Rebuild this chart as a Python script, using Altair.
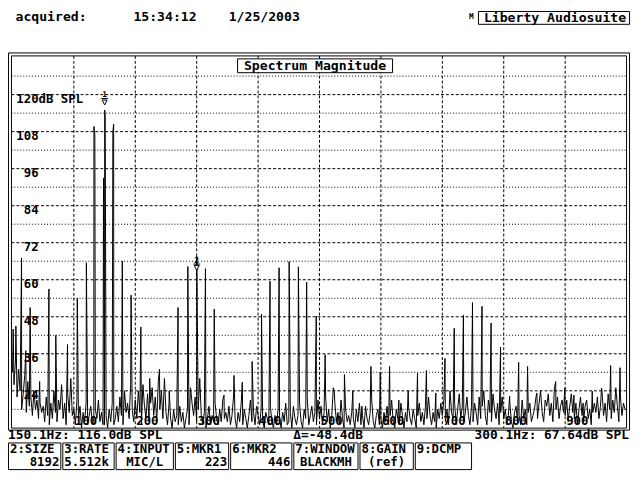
import altair as alt
import pandas as pd

FONT = "DejaVu Sans Mono"

# ---------------- data ----------------
peak_hz = [1.2, 5.6, 14.8, 21.7, 28.8, 44.3, 59.4, 70.6, 89.7, 105.6, 120.4,
           132.7, 134.2, 148.3, 150.2, 151.0, 163.5, 164.8, 178.9, 193.2, 209.1,
           223.5, 239.4, 255.3, 269.7, 285.6, 300.1, 314.3, 328.6, 344.5, 360.8,
           374.3, 390.3, 405.6, 419.4, 434.2, 450.6, 465.6, 479.1, 494.7, 509.2,
           524.0, 540.6, 554.3, 569.1, 583.7, 598.9, 614.1, 629.2, 644.4, 659.6,
           674.1, 689.4, 704.3, 719.4, 734.3, 749.1, 764.6, 779.4, 794.8, 809.6,
           824.3, 838.8, 853.9, 869.4, 884.6, 899.3, 914.3, 929.2, 944.1, 959.2,
           974.1, 989.4]
peak_db = [44, 45, 67, 37, 51, 27, 57, 42, 39, 54, 65.5,
           109.7, 107, 93, 115, 113, 108, 110.4, 66, 55, 44.7,
           28, 31, 24, 51, 64.3, 67.64, 63.6, 50.5, 22.6, 29,
           26.8, 33.5, 48.9, 59.5, 63.9, 65.9, 64.2, 59.2, 48.2, 35.7,
           24, 29.3, 24, 19, 31.9, 30, 31.9, 21, 24, 29.7,
           30.6, 23.3, 34.5, 44.3, 48.5, 52.6, 51.4, 46, 38.2, 22.3,
           33.2, 31.9, 23.3, 19.7, 27, 24.9, 22.6, 20, 23.9, 24.9,
           32.2, 31.5]

NOISE_STEP_HZ = 2.5   # noise floor, one value every 2.5 Hz from 0 Hz
noise_db = [
    30, 26, 34, 22, 31, 24, 18, 23, 29, 17, 27, 19, 22, 16, 24, 18, 21, 15, 20, 17,
    19, 14, 22, 16, 13, 20, 15, 24, 17, 14, 21, 18, 26, 15, 20, 13, 23, 17, 28, 16,
    18, 13, 21, 15, 19, 12, 17, 14, 20, 13, 16, 19, 14, 13, 18, 15, 21, 14, 17, 13,
    13, 16, 12, 18, 14, 20, 13, 15, 19, 14, 22, 16, 13, 24, 17, 20, 15, 26, 18, 14,
    21, 15, 24, 17, 13, 26, 19, 15, 23, 14, 20, 25, 16, 22, 14, 27, 18, 24, 15, 28,
    17, 13, 20, 15, 12, 18, 14, 16, 13, 19, 14, 17, 12, 15, 18, 13, 25, 20, 16, 22,
    14, 18, 28, 16, 13, 17, 12, 15, 19, 13, 16, 14, 20, 15, 13, 18, 14, 21, 15, 17,
    14, 19, 13, 16, 22, 15, 12, 17, 14, 20, 13, 18, 15, 12, 16, 21, 14, 17, 13, 19,
    16, 13, 18, 14, 12, 17, 15, 13, 19, 14, 12, 16, 13, 18, 15, 12, 17, 14, 20, 13,
    14, 17, 12, 19, 15, 13, 16, 20, 14, 12, 18, 15, 22, 13, 16, 19, 14, 17, 13, 21,
    15, 19, 13, 17, 22, 14, 18, 12, 16, 25, 20, 14, 17, 13, 21, 15, 12, 18, 14, 16,
    13, 17, 15, 12, 18, 14, 20, 13, 16, 12, 19, 15, 13, 17, 21, 14, 12, 16, 18, 13,
    15, 12, 17, 14, 19, 13, 16, 21, 14, 12, 18, 15, 13, 20, 16, 12, 17, 14, 19, 15,
    13, 18, 15, 12, 16, 20, 14, 17, 13, 19, 15, 22, 16, 13, 17, 14, 12, 18, 15, 20,
    16, 21, 14, 18, 13, 24, 17, 15, 20, 13, 18, 23, 15, 19, 14, 17, 22, 16, 13, 19,
    14, 20, 17, 13, 22, 15, 19, 24, 16, 13, 21, 17, 14, 23, 18, 15, 20, 13, 17, 22,
    15, 18, 13, 16, 20, 14, 12, 17, 19, 14, 16, 13, 21, 15, 18, 13, 17, 20, 14, 16,
    18, 22, 15, 20, 24, 17, 14, 21, 19, 23, 16, 20, 14, 25, 18, 22, 15, 19, 21, 17,
    16, 21, 14, 19, 23, 17, 15, 20, 13, 18, 22, 16, 14, 19, 21, 15, 18, 13, 17, 20,
    17, 22, 15, 19, 24, 16, 20, 14, 23, 18, 15, 21, 17, 25, 19, 14, 22, 16, 20, 18,
    18,
]

major_db = [24, 36, 48, 60, 72, 84, 96, 108, 120]
minor_db = [18, 30, 42, 54, 66, 78, 90, 102, 114, 126]
y_tick_labels = ["24", "36", "48", "60", "72", "84", "96", "108", "120"]
freq_ticks = [100, 200, 300, 400, 500, 600, 700, 800, 900]
x_tick_labels = ["100", "200", "300", "400", "500", "600", "700", "800", "900"]

marker_hz = [150.1, 300.1]
marker_db = [116.0, 67.64]
marker_labels = ["1", "2"]

title_text = "Spectrum Magnitude"
header_texts = ["acquired:", "15:34:12", "1/25/2003"]
brand_text = "Liberty Audiosuite"
status_left = "150.1Hz: 116.0dB SPL"
status_mid = "\u0394=-48.4dB"
status_right = "300.1Hz: 67.64dB SPL"
button_titles = ["2:SIZE", "3:RATE", "4:INPUT", "5:MKR1", "6:MKR2", "7:WINDOW", "8:GAIN", "9:DCMP"]
button_values = ["8192", "5.512k", "MIC/L", "223", "446", "BLACKMH", "(ref)", ""]

# ---------------- layout (pixels) ----------------
W, H = 632, 472
X = alt.Scale(domain=[0, 1000], range=[4.5, 626.5], nice=False, zero=False)
Y = alt.Scale(domain=[12, 132], range=[422.2, 47.2], nice=False, zero=False)
PLOT_L, PLOT_R, PLOT_T, PLOT_B = 3.5, 626.5, 45.5, 422.5
button_x = [(0.5, 53.5), (55.5, 107.5), (109.5, 167.5), (169.5, 223.5),
            (225.5, 287.5), (289.5, 354.5), (356.5, 410.5), (412.5, 469.5)]
button_value_align = ["right", "left", "center", "right", "right", "center", "center", "center"]
header_x = [7.6, 127, 223.5]
# marker glyph offsets (label, bar, triangle) relative to the marked level, per marker
marker_offsets = [(-10, -8.5, -4.5), (6.5, 8.0, 12.0)]

one = pd.DataFrame({"k": [0]})
layers = []


def rect(x0, x1, y0, y1, fill="white", opacity=0.0, sw=1):
    return alt.Chart(one).mark_rect(fill=fill, fillOpacity=opacity, stroke="black",
                                    strokeWidth=sw).encode(
        x=alt.value(x0), x2=alt.value(x1), y=alt.value(y0), y2=alt.value(y1))


def txt(s, x, y, size=13.3, align="left"):
    return alt.Chart(one).mark_text(text=s, font=FONT, fontSize=size, fontWeight="bold",
                                    align=align, baseline="alphabetic", color="black").encode(
        x=alt.value(x), y=alt.value(y))


# grid
layers.append(alt.Chart(pd.DataFrame({"db": major_db})).mark_rule(
    color="black", strokeWidth=1, strokeDash=[3, 2]).encode(
    y=alt.Y("db:Q", scale=Y, axis=None), x=alt.value(PLOT_L), x2=alt.value(PLOT_R)))
layers.append(alt.Chart(pd.DataFrame({"db": minor_db})).mark_rule(
    color="black", strokeWidth=1, strokeDash=[1, 2]).encode(
    y=alt.Y("db:Q", scale=Y, axis=None), x=alt.value(PLOT_L), x2=alt.value(PLOT_R)))
layers.append(alt.Chart(pd.DataFrame({"hz": freq_ticks})).mark_rule(
    color="black", strokeWidth=1, strokeDash=[3, 2]).encode(
    x=alt.X("hz:Q", scale=X, axis=None), y=alt.value(PLOT_T), y2=alt.value(PLOT_B)))

# tick labels
layers.append(alt.Chart(pd.DataFrame({"db": major_db, "lab": y_tick_labels})).mark_text(
    font=FONT, fontSize=12.5, fontWeight="bold", align="right", baseline="alphabetic",
    dy=8, color="black").encode(
    y=alt.Y("db:Q", scale=Y, axis=None), x=alt.value(31), text="lab:N"))
layers.append(alt.Chart(pd.DataFrame({"db": [major_db[-1]]})).mark_text(
    text="dB SPL", font=FONT, fontSize=12.5, fontWeight="bold", align="left",
    baseline="alphabetic", dy=8, color="black").encode(
    y=alt.Y("db:Q", scale=Y, axis=None), x=alt.value(31)))
layers.append(alt.Chart(pd.DataFrame({"hz": freq_ticks, "lab": x_tick_labels})).mark_text(
    font=FONT, fontSize=12.5, fontWeight="bold", align="left", baseline="alphabetic",
    dx=1, color="black").encode(
    x=alt.X("hz:Q", scale=X, axis=None), y=alt.value(419), text="lab:N"))

# spectrum
spec = pd.concat([
    pd.DataFrame({"hz": peak_hz, "db": peak_db}),
    pd.DataFrame({"hz": [i * NOISE_STEP_HZ for i in range(len(noise_db))], "db": noise_db}),
]).sort_values("hz")
layers.append(alt.Chart(spec).mark_line(color="black", strokeWidth=1, interpolate="linear").encode(
    x=alt.X("hz:Q", scale=X, axis=None), y=alt.Y("db:Q", scale=Y, axis=None),
    order="hz:Q"))

# frames
layers.append(rect(0.5, 629.5, 42.5, 424.5))
layers.append(rect(3.5, 626.5, 45.5, 422.5))

# title box
layers.append(rect(232.5, 389.5, 48.5, 62.5, opacity=1.0))
layers.append(txt(title_text, 311, 59.5, align="center"))

# markers
for hz, db, lab, (dl, db_bar, dt) in zip(marker_hz, marker_db, marker_labels, marker_offsets):
    mk = pd.DataFrame({"hz": [hz], "db": [db], "lab": [lab]})
    enc = dict(x=alt.X("hz:Q", scale=X, axis=None), y=alt.Y("db:Q", scale=Y, axis=None))
    layers.append(alt.Chart(mk).mark_text(font=FONT, fontSize=8, fontWeight="bold", dy=dl,
                                          baseline="alphabetic", color="black").encode(
        text="lab:N", **enc))
    layers.append(alt.Chart(mk).mark_point(shape="M-1,0L1,0", size=49, stroke="black",
                                           strokeWidth=1, filled=False, yOffset=db_bar,
                                           opacity=1).encode(**enc))
    layers.append(alt.Chart(mk).mark_point(shape="M-1,-1L1,-1L0,1Z", size=25, stroke="black",
                                           fill="white", fillOpacity=1, strokeWidth=1,
                                           yOffset=dt, opacity=1).encode(**enc))

# header
for s, x in zip(header_texts, header_x):
    layers.append(txt(s, x, 10.5))
layers.append(txt("M", 467, 8, size=8))
layers.append(rect(476.5, 629.5, 0.5, 13.5))
layers.append(txt(brand_text, 482, 11.5))

# status line
layers.append(txt(status_left, 0, 434, size=13))
layers.append(txt(status_mid, 289, 434, size=13))
layers.append(txt(status_right, 629, 434, size=13, align="right"))

# buttons
for (x0, x1), t, v, a in zip(button_x, button_titles, button_values, button_value_align):
    layers.append(rect(x0, x1, 437.5, 464.5))
    layers.append(txt(t, x0 + 1.5, 447.5, size=12.5))
    if v:
        vx = {"left": x0 + 1.5, "right": x1 - 1.5, "center": (x0 + x1) / 2}[a]
        layers.append(txt(v, vx, 461, size=12.5, align=a))

chart = alt.layer(*layers).properties(
    width=W, height=H, autosize=alt.AutoSizeParams(type="none"), padding=0,
    background="white"
).configure_view(strokeWidth=0)

chart.save("out.html", embed_options={"renderer": "svg", "actions": False})
